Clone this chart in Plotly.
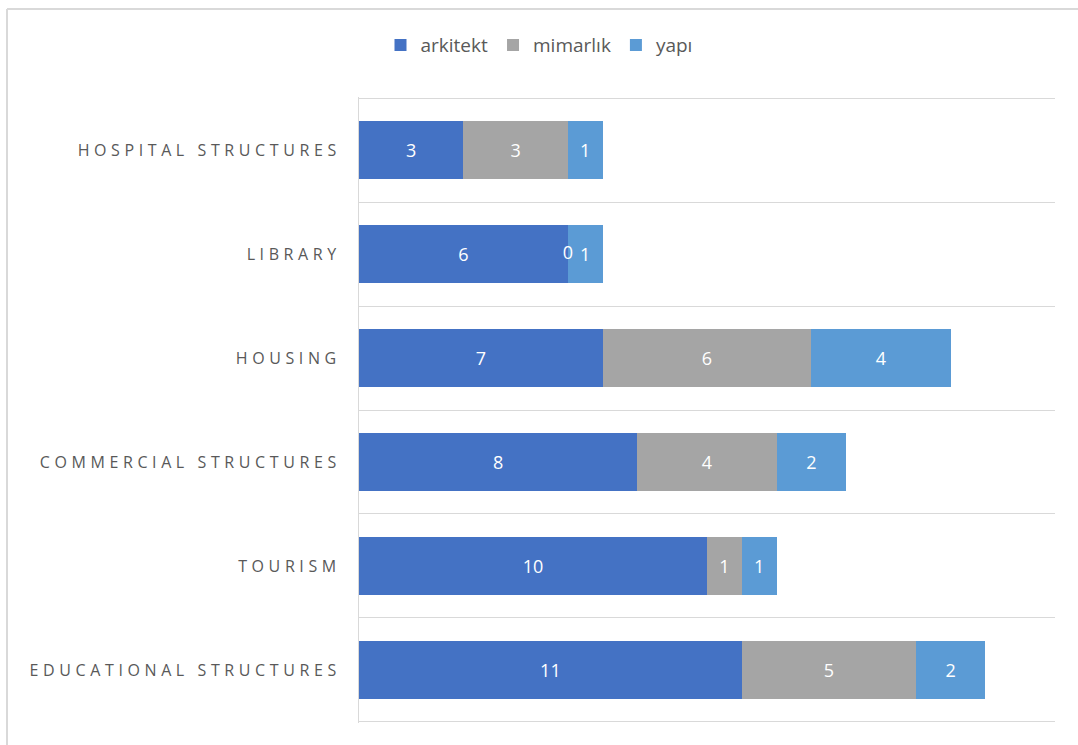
import plotly.graph_objects as go

# categories bottom -> top, as in the chart
categories = ["EDUCATIONAL STRUCTURES", "TOURISM", "COMMERCIAL STRUCTURES",
              "HOUSING", "LIBRARY", "HOSPITAL STRUCTURES"]
arkitekt = [11, 10, 8, 7, 6, 3]
mimarlik = [5, 1, 4, 6, 0, 3]
yapi = [2, 1, 2, 4, 1, 1]

series = [("arkitekt", arkitekt, "#4472C4"),
          ("mimarlık", mimarlik, "#A5A5A5"),
          ("yapı", yapi, "#5B9BD5")]

pos = list(range(len(categories)))

fig = go.Figure()
for name, vals, color in series:
    fig.add_trace(go.Bar(
        y=pos, x=vals, name=name, orientation="h",
        marker=dict(color=color, line=dict(width=0)),
        text=[str(v) for v in vals], textposition="inside",
        insidetextanchor="middle", constraintext="none",
        textfont=dict(color="white", size=18, family="Open Sans"),
    ))

# zero-width segments still get their label, at the stack boundary
zero_x = [a for a, m in zip(arkitekt, mimarlik) if m == 0]
zero_y = [p for p, m in zip(pos, mimarlik) if m == 0]
fig.add_trace(go.Scatter(
    x=zero_x, y=zero_y, mode="text", text=["0"] * len(zero_x),
    textfont=dict(color="white", size=18, family="Open Sans"),
    showlegend=False, hoverinfo="skip",
))

fig.update_layout(
    barmode="stack",
    bargap=0.44,
    width=1078, height=745,
    margin=dict(l=359, r=23, t=97, b=22),
    paper_bgcolor="white", plot_bgcolor="white",
    font=dict(family="Open Sans", color="#595959"),
    legend=dict(orientation="h", x=0.5, xanchor="center", y=0.965,
                yref="container", yanchor="top", xref="container",
                font=dict(size=19, color="#595959"),
                itemwidth=30, traceorder="normal"),
    showlegend=True,
)

fig.update_xaxes(range=[0, 20], showticklabels=False, showgrid=False,
                 zeroline=False, fixedrange=True)
fig.update_yaxes(range=[-0.51, 5.51], tickvals=pos, ticktext=categories,
                 showgrid=False, zeroline=False, showline=True,
                 linecolor="#D9D9D9", linewidth=1, ticks="",
                 ticklabelstandoff=14,
                 tickfont=dict(size=16, color="#595959", family="Open Sans"),
                 minor=dict(tickvals=[p - 0.5 for p in pos] + [pos[-1] + 0.5],
                            showgrid=True, gridcolor="#D9D9D9", gridwidth=1,
                            ticks=""))

# outer chart frame: only the left and top edges fall inside the picture
frame = dict(color="#D9D9D9", width=2)
fig.add_shape(type="line", xref="paper", yref="paper",
              x0=-352 / 696, x1=-352 / 696, y0=-40 / 626, y1=1 + 88 / 626,
              line=frame, layer="below")
fig.add_shape(type="line", xref="paper", yref="paper",
              x0=-352 / 696, x1=(1100 - 359) / 696,
              y0=1 + 88 / 626, y1=1 + 88 / 626,
              line=frame, layer="below")

post = """
document.body.style.margin = '0';
var el = document.querySelectorAll('.ytick text');
el.forEach(function(t){ t.style.letterSpacing = '4.6px'; });
"""
fig.write_html("out.html", post_script=post,
               config={"displayModeBar": False})
